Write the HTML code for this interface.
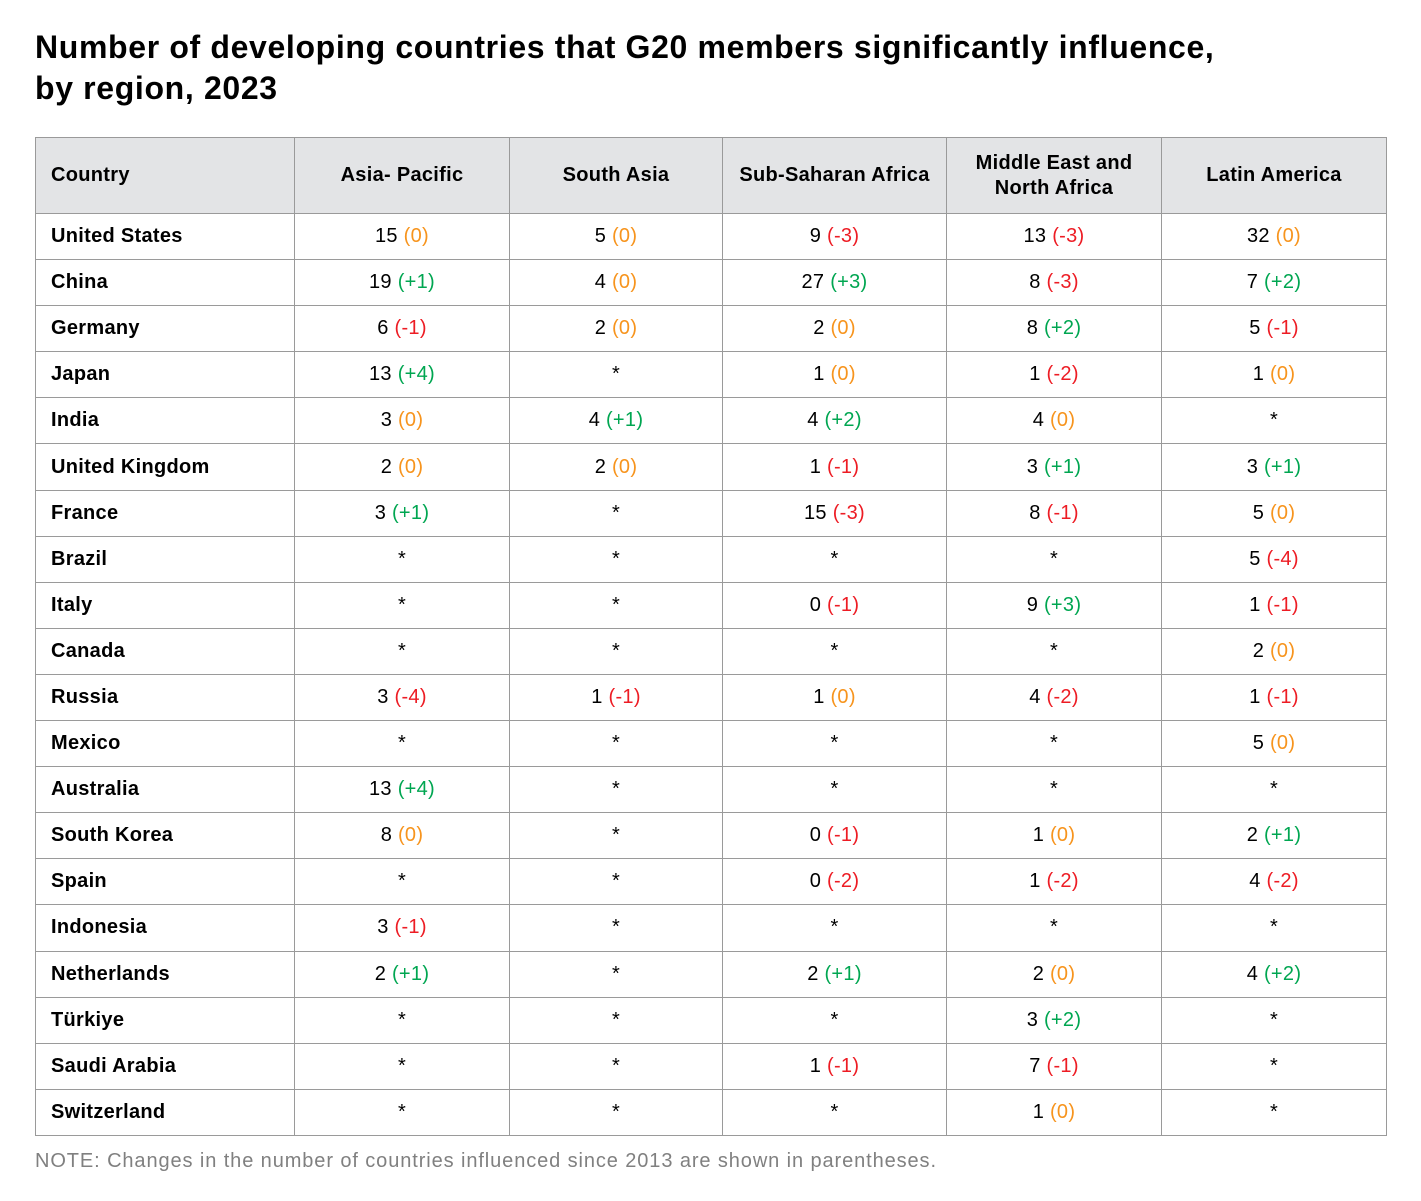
<!DOCTYPE html>
<html><head><meta charset="utf-8"><style>
body{margin:0;width:1421px;height:1201px;background:#fff;font-family:"Liberation Sans",Arial,sans-serif;position:relative;overflow:hidden}
h1{position:absolute;left:35px;top:27px;margin:0;font-size:32px;line-height:41px;font-weight:bold;color:#000;letter-spacing:0.65px}
table{position:absolute;left:35px;top:137px;border-collapse:collapse;table-layout:fixed;width:1351px}
td,th{border:1.5px solid #9a9a9a;padding:0;font-size:20px;text-align:center;color:#000;letter-spacing:0.3px}
th{background:#e3e4e6;height:75px;font-weight:bold;line-height:25px}
td{height:45.1px}
td:first-child,th:first-child{text-align:left;padding-left:15px;font-weight:bold}
.o{color:#f7941d}.g{color:#00a651}.r{color:#ed1c24}
.note{position:absolute;left:35px;top:1150px;font-size:20px;color:#808080;letter-spacing:0.9px}
</style></head><body>
<h1>Number of developing countries that G20 members significantly influence,<br>by region, 2023</h1>
<table>
<colgroup><col style="width:259px"><col style="width:215px"><col style="width:213px"><col style="width:224px"><col style="width:215px"><col style="width:225px"></colgroup>
<tr><th>Country</th><th>Asia- Pacific</th><th>South Asia</th><th>Sub-Saharan Africa</th><th>Middle East and<br>North Africa</th><th>Latin America</th></tr>
<tr><td>United States</td><td>15 <span class="o">(0)</span></td><td>5 <span class="o">(0)</span></td><td>9 <span class="r">(-3)</span></td><td>13 <span class="r">(-3)</span></td><td>32 <span class="o">(0)</span></td></tr>
<tr><td>China</td><td>19 <span class="g">(+1)</span></td><td>4 <span class="o">(0)</span></td><td>27 <span class="g">(+3)</span></td><td>8 <span class="r">(-3)</span></td><td>7 <span class="g">(+2)</span></td></tr>
<tr><td>Germany</td><td>6 <span class="r">(-1)</span></td><td>2 <span class="o">(0)</span></td><td>2 <span class="o">(0)</span></td><td>8 <span class="g">(+2)</span></td><td>5 <span class="r">(-1)</span></td></tr>
<tr><td>Japan</td><td>13 <span class="g">(+4)</span></td><td>*</td><td>1 <span class="o">(0)</span></td><td>1 <span class="r">(-2)</span></td><td>1 <span class="o">(0)</span></td></tr>
<tr><td>India</td><td>3 <span class="o">(0)</span></td><td>4 <span class="g">(+1)</span></td><td>4 <span class="g">(+2)</span></td><td>4 <span class="o">(0)</span></td><td>*</td></tr>
<tr><td>United Kingdom</td><td>2 <span class="o">(0)</span></td><td>2 <span class="o">(0)</span></td><td>1 <span class="r">(-1)</span></td><td>3 <span class="g">(+1)</span></td><td>3 <span class="g">(+1)</span></td></tr>
<tr><td>France</td><td>3 <span class="g">(+1)</span></td><td>*</td><td>15 <span class="r">(-3)</span></td><td>8 <span class="r">(-1)</span></td><td>5 <span class="o">(0)</span></td></tr>
<tr><td>Brazil</td><td>*</td><td>*</td><td>*</td><td>*</td><td>5 <span class="r">(-4)</span></td></tr>
<tr><td>Italy</td><td>*</td><td>*</td><td>0 <span class="r">(-1)</span></td><td>9 <span class="g">(+3)</span></td><td>1 <span class="r">(-1)</span></td></tr>
<tr><td>Canada</td><td>*</td><td>*</td><td>*</td><td>*</td><td>2 <span class="o">(0)</span></td></tr>
<tr><td>Russia</td><td>3 <span class="r">(-4)</span></td><td>1 <span class="r">(-1)</span></td><td>1 <span class="o">(0)</span></td><td>4 <span class="r">(-2)</span></td><td>1 <span class="r">(-1)</span></td></tr>
<tr><td>Mexico</td><td>*</td><td>*</td><td>*</td><td>*</td><td>5 <span class="o">(0)</span></td></tr>
<tr><td>Australia</td><td>13 <span class="g">(+4)</span></td><td>*</td><td>*</td><td>*</td><td>*</td></tr>
<tr><td>South Korea</td><td>8 <span class="o">(0)</span></td><td>*</td><td>0 <span class="r">(-1)</span></td><td>1 <span class="o">(0)</span></td><td>2 <span class="g">(+1)</span></td></tr>
<tr><td>Spain</td><td>*</td><td>*</td><td>0 <span class="r">(-2)</span></td><td>1 <span class="r">(-2)</span></td><td>4 <span class="r">(-2)</span></td></tr>
<tr><td>Indonesia</td><td>3 <span class="r">(-1)</span></td><td>*</td><td>*</td><td>*</td><td>*</td></tr>
<tr><td>Netherlands</td><td>2 <span class="g">(+1)</span></td><td>*</td><td>2 <span class="g">(+1)</span></td><td>2 <span class="o">(0)</span></td><td>4 <span class="g">(+2)</span></td></tr>
<tr><td>Türkiye</td><td>*</td><td>*</td><td>*</td><td>3 <span class="g">(+2)</span></td><td>*</td></tr>
<tr><td>Saudi Arabia</td><td>*</td><td>*</td><td>1 <span class="r">(-1)</span></td><td>7 <span class="r">(-1)</span></td><td>*</td></tr>
<tr><td>Switzerland</td><td>*</td><td>*</td><td>*</td><td>1 <span class="o">(0)</span></td><td>*</td></tr>
</table>
<div class="note">NOTE: Changes in the number of countries influenced since 2013 are shown in parentheses.</div>
</body></html>
